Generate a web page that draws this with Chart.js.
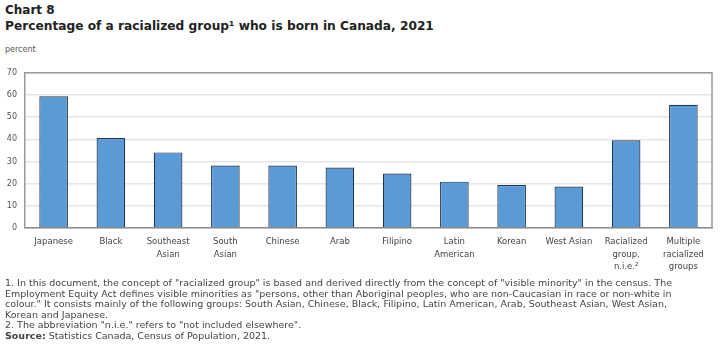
<!DOCTYPE html>
<html>
<head>
<meta charset="utf-8">
<script src="https://cdn.jsdelivr.net/npm/chart.js@4"></script>
<style>
  body { margin: 0; background: #fff; width: 720px; height: 352px; overflow: hidden; position: relative; font-family: "DejaVu Sans", Verdana, sans-serif; }
  .t1 { position: absolute; left: 5px; top: 3px; font-size: 12px; font-weight: bold; color: #222; }
  .t2 { position: absolute; left: 5px; top: 19px; font-size: 12.2px; font-weight: bold; color: #222; }
  .unit { position: absolute; left: 5px; top: 45px; font-size: 8px; color: #555; }
  .notes { position: absolute; left: 5px; top: 278px; font-size: 9.5px; line-height: 10.6px; color: #444; width: 715px; white-space: nowrap; }
  .box { position: absolute; left: 0; top: 60px; width: 720px; height: 220px; }
</style>
</head>
<body>
<div class="t1">Chart 8</div>
<div class="t2">Percentage of a racialized group¹ who is born in Canada, 2021</div>
<div class="unit">percent</div>
<div class="box"><canvas id="chart"></canvas></div>
<div class="notes">
1. In this document, the concept of "racialized group" is based and derived directly from the concept of "visible minority" in the census. The<br>
Employment Equity Act defines visible minorities as "persons, other than Aboriginal peoples, who are non-Caucasian in race or non-white in<br>
colour." It consists mainly of the following groups: South Asian, Chinese, Black, Filipino, Latin American, Arab, Southeast Asian, West Asian,<br>
Korean and Japanese.<br>
2. The abbreviation "n.i.e." refers to "not included elsewhere".<br>
<b>Source:</b> Statistics Canada, Census of Population, 2021.
</div>
<script>
const groups = [
    ['Japanese'], ['Black'], ['Southeast', 'Asian'], ['South', 'Asian'], ['Chinese'], ['Arab'],
    ['Filipino'], ['Latin', 'American'], ['Korean'], ['West Asian'],
    ['Racialized', 'group,', 'n.i.e.²'], ['Multiple', 'racialized', 'groups']
];
const bornInCanada = [59.4, 40.6, 34.1, 28.2, 28.2, 27.3, 24.6, 20.9, 19.4, 18.7, 39.6, 55.6];
const yTicks = [0, 10, 20, 30, 40, 50, 60, 70];

// frame on top and right of the plot
const frame = {
    id: 'frame',
    afterDraw(chart) {
        const { ctx, chartArea: a } = chart;
        ctx.save();
        ctx.strokeStyle = '#9a9a9a';
        ctx.lineWidth = 1.5;
        ctx.beginPath();
        ctx.moveTo(a.left, a.top);
        ctx.lineTo(a.right, a.top);
        ctx.lineTo(a.right, a.bottom);
        ctx.stroke();
        ctx.restore();
    }
};

new Chart(document.getElementById('chart'), {
    type: 'bar',
    data: {
        labels: groups,
        datasets: [{
            data: bornInCanada,
            backgroundColor: '#5b9bd5',
            borderColor: '#1f3550',
            borderWidth: 1.2,
            categoryPercentage: 1,
            barPercentage: 0.5
        }]
    },
    plugins: [frame],
    options: {
        responsive: true,
        maintainAspectRatio: false,
        animation: false,
        layout: { padding: { top: 9, right: 8, left: 0, bottom: 0 } },
        plugins: { legend: { display: false }, tooltip: { enabled: false } },
        scales: {
            x: {
                grid: { display: false },
                border: { color: '#8a8a8a', width: 1.5 },
                ticks: {
                    maxRotation: 0, autoSkip: false, padding: 0,
                    color: '#444', font: { family: 'DejaVu Sans', size: 8.5, lineHeight: 1.45 }
                },
                afterFit(scale) { scale.height = 52; }
            },
            y: {
                min: 0, max: 70,
                afterBuildTicks(scale) { scale.ticks = yTicks.map(v => ({ value: v })); },
                grid: { color: '#e6e6e6', lineWidth: 1.5, drawTicks: false },
                border: { color: '#9a9a9a', width: 1.5 },
                ticks: {
                    padding: 8, color: '#555',
                    font: { family: 'DejaVu Sans', size: 8 }
                },
                afterFit(scale) { scale.width = 25; }
            }
        }
    }
});
</script>
</body>
</html>
